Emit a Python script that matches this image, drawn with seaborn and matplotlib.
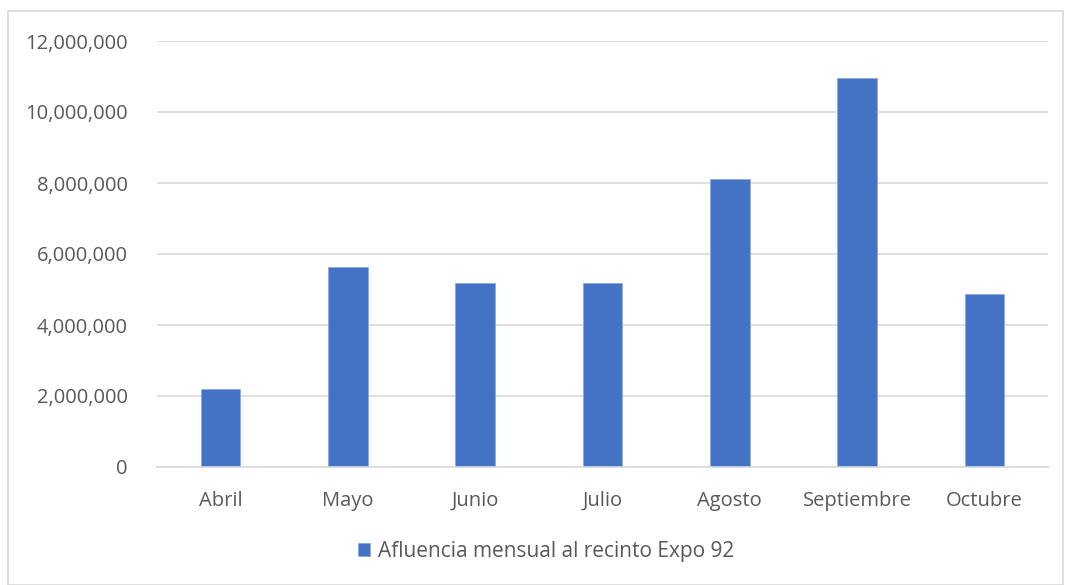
import pandas as pd
import numpy as np
import matplotlib.pyplot as plt
import matplotlib.ticker as mticker
from matplotlib.patches import Rectangle
import seaborn as sns

meses = ['Abril', 'Mayo', 'Junio', 'Julio', 'Agosto', 'Septiembre', 'Octubre']
visitantes = [2200000, 5640000, 5170000, 5190000, 8120000, 10950000, 4880000]
serie = 'Afluencia mensual al recinto Expo 92'

sns.set_theme(style='white')
plt.rcParams['font.family'] = ['Open Sans', 'DejaVu Sans']

df = pd.DataFrame({'Mes': meses, 'Visitantes': visitantes, 'Serie': serie})

fig = plt.figure(figsize=(10.66, 5.85), dpi=100)
ax = fig.add_axes([157 / 1066, 1 - 467 / 585, (1048 - 157) / 1066, (467 - 41) / 585])

sns.barplot(data=df, x='Mes', y='Visitantes', hue='Serie', palette=['#4472C4'],
            saturation=1, width=0.31, ax=ax, legend=True,
            edgecolor='#8faadc', linewidth=0.6)

ax.set_ylim(0, 12000000)
ax.set_xlim(-0.5, 6.5)
ax.yaxis.set_major_locator(mticker.MultipleLocator(2000000))
ax.yaxis.set_major_formatter(mticker.FuncFormatter(lambda v, p: f'{int(v):,}'))
ax.grid(axis='y', color='#d9d9d9', linewidth=1.2)
ax.set_axisbelow(True)
for s in ['top', 'right', 'left']:
    ax.spines[s].set_visible(False)
ax.spines['bottom'].set_color('#d9d9d9')
ax.spines['bottom'].set_linewidth(1.2)
ax.set_xlabel('')
ax.set_ylabel('')
ax.tick_params(axis='both', colors='#595959', labelsize=14.5, length=0)
ax.tick_params(axis='y', pad=21)
ax.tick_params(axis='x', pad=17)

# legend sits a bit right of centre, like the original
leg = ax.legend(loc='center', bbox_to_anchor=(546 / 1066, 1 - 551 / 585), bbox_transform=fig.transFigure,
                frameon=False, fontsize=15, handlelength=0.6, handleheight=0.6, handletextpad=0.35)
for t in leg.get_texts():
    t.set_color('#595959')

fig.patches.append(Rectangle((8 / 1066, 0), 1055 / 1066, 1 - 11 / 585, transform=fig.transFigure,
                             fill=False, edgecolor='#d9d9d9', linewidth=1.2))

fig.savefig('out.png', dpi=100)
